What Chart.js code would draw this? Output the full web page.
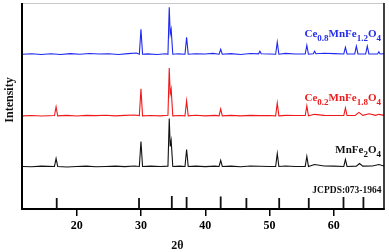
<!DOCTYPE html>
<html>
<head>
<meta charset="utf-8">
<script src="https://cdn.jsdelivr.net/npm/chart.js@4"></script>
<style>
  html, body { margin: 0; padding: 0; background: #fff; }
  #wrap { width: 389px; height: 252px; }
</style>
</head>
<body>
<div id="wrap"><canvas id="xrdchart"></canvas></div>
<script>
// x tick labels (2theta)
const xTickValues = [20, 30, 40, 50, 60]

// pattern offsets (stacking), in y units
const blackOffset = 42.6, redOffset = 93.3, blueOffset = 155

// Ce0.8MnFe1.2O4  [2theta, intensity above its own baseline]
const bluePoints = [[11.6,0],[13,0.5],[14.5,-0.3],[16,0.4],[17.5,-0.2],[19,0.6],[20.5,0],[22,0.8],[23.5,0.2],[25,0.5],
  [26.5,-0.2],[28,0.6],[29.3,1.2],[29.75,0],[30.0,25],[30.25,0],[31,0.3],[32.5,-0.3],[33.8,0.5],[34.2,0],[34.4,47],
  [34.55,20],[34.7,25],[34.95,0],[35.8,0.4],[36.85,0],[37.1,17],[37.35,0],[38.5,0.5],[40,0.3],[41.2,0.8],[42.15,0],
  [42.4,5],[42.65,0],[44,0.6],[45.5,-0.2],[47,0.8],[48.3,0.4],[48.5,3],[48.7,0.5],[50,0.3],[50.95,0],[51.2,12],
  [51.45,0],[52.5,0.8],[54,0.3],[55.55,0.3],[55.8,9],[56.05,0],[56.8,0.5],[57.0,3],[57.2,0.5],[58.5,1],[60,0.6],
  [61.55,0.3],[61.8,7],[62.05,0.3],[63.25,0.3],[63.5,8],[63.75,0.3],[64.95,0.3],[65.2,8],[65.45,0.3],[66.8,0.3],
  [67.0,2.5],[67.2,0.3],[67.8,0.5]]

// Ce0.2MnFe1.8O4
const redPoints = [[11.6,0],[13,0.4],[14.5,-0.2],[16.55,0.3],[16.8,9],[17.05,0],[18.5,0.5],[20,-0.2],[21.5,0.5],
  [23,0.2],[24.5,0.6],[26,0],[27.5,0.5],[29,0.8],[29.75,0.3],[30.0,27],[30.25,0],[31.5,0.4],[33,0],[34.2,0.5],
  [34.4,48],[34.55,22],[34.7,27],[34.95,0],[36,0.4],[36.85,0],[37.1,15],[37.35,0],[38.5,0.6],[40,0],[41.5,0.5],
  [42.15,0],[42.4,7],[42.65,0],[44,0.5],[45.5,0],[47,0.5],[48.5,0.2],[50,0.4],[50.95,0],[51.2,13],[51.45,0],
  [52.5,0.5],[54,0.3],[55.55,0.3],[55.8,10],[56.05,0],[57,1.5],[58.5,0.5],[60,0.3],[61.55,0.3],[61.8,8],[62.05,0.3],
  [63.3,0.5],[63.9,3.5],[64.5,0.5],[65.5,2],[66.5,0.5],[67,1.5],[67.8,0.5]]

// MnFe2O4
const blackPoints = [[11.6,0],[13,-0.3],[14.5,0.3],[16.55,0],[16.8,8],[17.05,0],[18.5,-0.5],[20,0],[21.5,0.3],
  [23,-0.3],[24.5,0],[26,0.3],[27.5,-0.2],[29,0.5],[29.75,0],[30.0,25],[30.25,0],[31.5,0.3],[33,0],[34.2,0.3],
  [34.4,48],[34.55,20],[34.7,26],[34.95,0],[36,0.3],[36.85,0],[37.1,17],[37.35,0],[38.5,0.3],[40,-0.2],[41.5,0.3],
  [42.15,0],[42.4,6],[42.65,0],[44,0.3],[45.5,-0.3],[47,0.5],[48.5,0.2],[50,0],[50.95,0],[51.2,13],[51.45,0],
  [52.5,0.5],[54,0],[55.55,0],[55.8,10],[56.05,0],[57,2],[58.5,0.5],[60,0.3],[61.55,0],[61.8,7],[62.05,0],
  [63.5,0.3],[64,3],[64.5,0.3],[66,0.5],[67,2],[67.8,0.5]]

// JCPDS 073-1964 reference lines
const stickPos = [16.9, 29.7, 34.8, 37.1, 42.4, 46.4, 51.5, 56.1, 61.5, 64.6]
const stickHeights = [11, 11, 13, 12, 12.5, 11, 11, 11, 12, 12]

const serif = "'Liberation Serif', 'Times New Roman', serif"

const toXY = (pts, off) => pts.map(p => ({ x: p[0], y: p[1] + off }))
const sticks = []
stickPos.forEach((x, i) => {
  sticks.push({ x: x, y: 0 }, { x: x, y: stickHeights[i] }, { x: x, y: null })
})

// labels with subscripts: [text, isSub]
function drawchem(ctx, parts, rightx, baseline, color, size, subsize) {
  let w = 0
  parts.forEach(p => {
    ctx.font = 'bold ' + (p[1] ? subsize : size) + 'px ' + serif
    w += ctx.measureText(p[0]).width
  })
  let x = rightx - w
  ctx.fillStyle = color
  ctx.textAlign = 'left'
  ctx.textBaseline = 'alphabetic'
  parts.forEach(p => {
    ctx.font = 'bold ' + (p[1] ? subsize : size) + 'px ' + serif
    ctx.fillText(p[0], x, baseline + (p[1] ? 4 : 0))
    x += ctx.measureText(p[0]).width
  })
}

const decor = {
  id: 'decor',
  afterDraw(chart) {
    const ctx = chart.ctx, a = chart.chartArea
    ctx.save()
    // frame
    ctx.strokeStyle = '#c8c8c8'
    ctx.lineWidth = 1
    ctx.beginPath(); ctx.moveTo(a.left, a.top + 0.5); ctx.lineTo(a.right, a.top + 0.5); ctx.stroke()
    ctx.strokeStyle = '#000'
    ctx.lineWidth = 2
    ctx.beginPath(); ctx.moveTo(a.left, a.top); ctx.lineTo(a.left, a.bottom + 1); ctx.stroke()
    ctx.lineWidth = 1.5
    ctx.beginPath(); ctx.moveTo(a.right, a.top); ctx.lineTo(a.right, a.bottom + 1); ctx.stroke()

    drawchem(ctx, [['Ce',0],['0.8',1],['MnFe',0],['1.2',1],['O',0],['4',1]], 381, 36.5, 'rgb(35,45,235)', 11, 9)
    drawchem(ctx, [['Ce',0],['0.2',1],['MnFe',0],['1.8',1],['O',0],['4',1]], 381, 100.5, 'rgb(235,30,30)', 11, 9)
    drawchem(ctx, [['MnFe',0],['2',1],['O',0],['4',1]], 381, 153, '#111', 11, 9)
    ctx.font = 'bold 9.5px ' + serif
    ctx.fillStyle = '#111'
    ctx.textAlign = 'right'
    ctx.fillText('JCPDS:073-1964', 381.5, 192.5)

    // axis titles
    ctx.font = 'bold 12px ' + serif
    ctx.textAlign = 'center'
    ctx.textBaseline = 'middle'
    ctx.fillText('2θ', 177.5, 246)
    ctx.translate(10, 100)
    ctx.rotate(-Math.PI / 2)
    ctx.fillText('Intensity', 0, 0)
    ctx.restore()
  }
}

const line = (pts, color, w) => ({
  data: pts,
  borderColor: color,
  borderWidth: w,
  pointRadius: 0,
  tension: 0,
  fill: false
})

new Chart(document.getElementById('xrdchart').getContext('2d'), {
  type: 'line',
  data: {
    datasets: [
      line(sticks, '#111', 1.8),
      line(toXY(blackPoints, blackOffset), '#111', 1.1),
      line(toXY(redPoints, redOffset), 'rgb(240,25,25)', 1.1),
      line(toXY(bluePoints, blueOffset), 'rgb(30,40,240)', 1.1)
    ]
  },
  options: {
    responsive: true,
    maintainAspectRatio: false,
    animation: false,
    layout: { padding: { left: 22, right: 5, top: 3, bottom: 0 } },
    plugins: { legend: { display: false }, tooltip: { enabled: false } },
    scales: {
      x: {
        type: 'linear',
        min: 11.5,
        max: 67.8,
        afterBuildTicks: axis => { axis.ticks = xTickValues.map(v => ({ value: v })) },
        afterFit: axis => { axis.height = 43 },
        ticks: { stepSize: 10, includeBounds: false, color: '#000', padding: 3,
          font: { family: serif, size: 12, weight: 'bold' } },
        grid: { drawOnChartArea: false, drawTicks: true, tickLength: 7, color: '#000', lineWidth: 1.5 },
        border: { display: true, color: '#000', width: 2 }
      },
      y: { display: false, min: 0, max: 206.3 }
    }
  },
  plugins: [decor]
})
</script>
</body>
</html>
